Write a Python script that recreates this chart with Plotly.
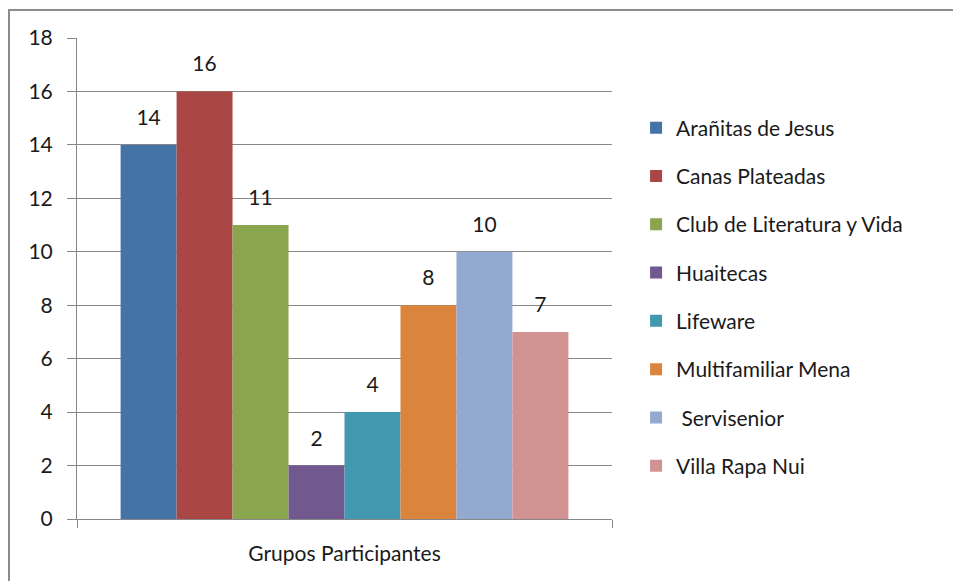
import plotly.graph_objects as go

category = ["Grupos Participantes"]
series_names = ["Arañitas de Jesus", "Canas Plateadas", "Club de Literatura y Vida",
                "Huaitecas", "Lifeware", "Multifamiliar Mena", " Servisenior", "Villa Rapa Nui"]
series_values = [14, 16, 11, 2, 4, 8, 10, 7]
series_colors = ["#4572A7", "#AA4643", "#89A54E", "#71588F", "#4198AF", "#DB843D", "#93A9CF", "#D19392"]
y_ticks = [0, 2, 4, 6, 8, 10, 12, 14, 16, 18]

FONT = "Lato, Carlito, Calibri, sans-serif"
FS = 21
TXT = "#1a1a1a"
fig = go.Figure()
for name, val, col in zip(series_names, series_values, series_colors):
    fig.add_trace(go.Bar(
        x=category, y=[val], name=name, legendgroup=name,
        offsetgroup=name, alignmentgroup="a",
        marker=dict(color=col, line=dict(width=0)),
    ))
for name, val in zip(series_names, series_values):
    fig.add_trace(go.Scatter(
        x=category, y=[val], mode="markers+text", text=[str(val)],
        textposition="top center", showlegend=False, hoverinfo="skip",
        offsetgroup=name, alignmentgroup="a", cliponaxis=False,
        marker=dict(size=22, opacity=0),
        textfont=dict(family=FONT, size=FS, color=TXT),
    ))

fig.update_layout(
    width=961, height=581,
    margin=dict(l=69, r=357, t=30, b=70),
    paper_bgcolor="white", plot_bgcolor="white",
    barmode="group", bargap=0.163, bargroupgap=0,
    scattermode="group", scattergap=0.163,
    font=dict(family=FONT, size=FS, color=TXT),
    showlegend=True,
    legend=dict(x=1.045, xanchor="left", y=0.4615, yanchor="middle",
                tracegroupgap=18, font=dict(family=FONT, size=FS, color=TXT),
                bgcolor="rgba(0,0,0,0)"),
    xaxis=dict(type="category", tickson="boundaries", ticks="outside", ticklen=8,
               tickcolor="#878787", showline=True, linecolor="#878787", linewidth=1,
               showgrid=False, ticklabelstandoff=16,
               tickfont=dict(family=FONT, size=FS, color=TXT)),
    yaxis=dict(range=[0, 18], tickvals=y_ticks, ticks="outside", ticklen=9,
               tickcolor="#878787", showline=True, linecolor="#878787", linewidth=1,
               showgrid=True, gridcolor="#878787", gridwidth=1, zeroline=False,
               ticklabelstandoff=10,
               tickfont=dict(family=FONT, size=FS, color=TXT)),
    shapes=[dict(type="rect", xref="paper", yref="paper",
                 x0=-0.1271, x1=1.8, y0=-0.3, y1=1.0582,
                 line=dict(color="#8c8c8c", width=2), fillcolor="rgba(0,0,0,0)", layer="below")],
)

fig.write_html("out.html")
